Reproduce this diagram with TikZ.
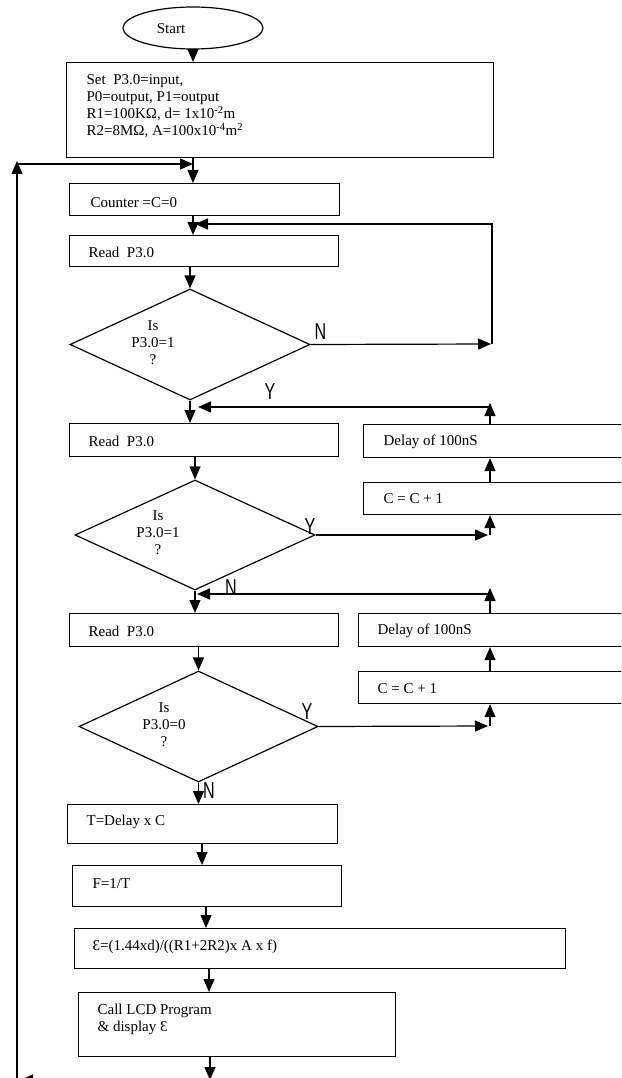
\documentclass[tikz,border=0pt]{standalone}
\usepackage{fontspec}
\usepackage{graphicx}
\setmainfont{Liberation Serif}
\newfontfamily\lblfont{Liberation Sans}
\usetikzlibrary{shapes.geometric,arrows.meta}
\begin{document}
\begin{tikzpicture}[x=1pt,y=-1pt,line width=1.2pt,
  box/.style={draw, rectangle, inner sep=0pt, anchor=north west},
  txt/.style={inner sep=0pt, anchor=west, align=left, font=\fontsize{15}{17}\selectfont},
  ctxt/.style={inner sep=0pt, align=center, font=\fontsize{15}{17}\selectfont},
  dec/.style={draw, diamond, inner sep=0pt},
  yn/.style={inner sep=0pt, font=\lblfont\fontsize{23}{23}\selectfont},
  arr/.style={-{Triangle[length=13pt,width=11pt]}}]
\useasboundingbox (0,0) rectangle (621,1078);
\clip (0,0) rectangle (621,1078);
\fill[white] (0,0) rectangle (621,1078);

% start
\node[draw, ellipse, minimum width=140pt, minimum height=42pt, inner sep=0pt] (start) at (193,28) {};
\node[ctxt] (starttxt) at (171,29) {Start};

% set box
\node[box, minimum width=427pt, minimum height=95pt] (set) at (66,62) {};
\node[txt] (settxt) at (86,106) {Set\ \ P3.0=input,\\P0=output, P1=output\\R1=100KΩ, d= 1x10\textsuperscript{-2}m\\R2=8MΩ, A=100x10\textsuperscript{-4}m\textsuperscript{2}};

% counter
\node[box, minimum width=270pt, minimum height=32pt] (counter) at (69,183) {};
\node[txt] (countertxt) at (90,203) {Counter =C=0};

% read 1
\node[box, minimum width=269pt, minimum height=31pt] (read1) at (69,235) {};
\node[txt] (read1txt) at (88,252) {Read\ \ P3.0};

% decision 1
\node[dec, minimum width=240pt, minimum height=111pt] (d1) at (190,344.5) {};
\node[ctxt] (d1txt) at (153,343) {Is\\P3.0=1\\?};

% read 2
\node[box, minimum width=269pt, minimum height=33pt] (read2) at (69,423) {};
\node[txt] (read2txt) at (88,441) {Read\ \ P3.0};

% delay 1, C 1
\node[box, minimum width=340pt, minimum height=33pt] (delay1) at (363,424) {};
\node[txt] (delay1txt) at (383,442) {Delay of 100nS};
\node[box, minimum width=340pt, minimum height=32pt] (c1) at (363,482) {};
\node[txt] (c1txt) at (383,499) {C = C + 1};

% decision 2
\node[dec, minimum width=240pt, minimum height=110pt] (d2) at (195,535) {};
\node[ctxt] (d2txt) at (158,533) {Is\\P3.0=1\\?};

% read 3
\node[box, minimum width=269pt, minimum height=33pt] (read3) at (69,613) {};
\node[txt] (read3txt) at (88,631) {Read\ \ P3.0};

% delay 2, C 2
\node[box, minimum width=340pt, minimum height=33pt] (delay2) at (358,613) {};
\node[txt] (delay2txt) at (377,631) {Delay of 100nS};
\node[box, minimum width=340pt, minimum height=32pt] (c2) at (358,671) {};
\node[txt] (c2txt) at (377,689) {C = C + 1};

% decision 3
\node[dec, minimum width=239pt, minimum height=111pt] (d3) at (198.5,726.5) {};
\node[ctxt] (d3txt) at (164,725) {Is\\P3.0=0\\?};

% T, F, E, LCD
\node[box, minimum width=270pt, minimum height=39pt] (tbox) at (67,804) {};
\node[txt] (ttxt) at (86,822) {T=Delay x C};
\node[box, minimum width=269pt, minimum height=41pt] (fbox) at (72,865) {};
\node[txt] (ftxt) at (92,884) {F=1/T};
\node[box, minimum width=491pt, minimum height=40pt] (ebox) at (74,928) {};
\node[txt] (etxt) at (92,947) {Ɛ=(1.44xd)/((R1+2R2)x A x f)};
\node[box, minimum width=317pt, minimum height=64pt] (lcd) at (78,992) {};
\node[txt] (lcdtxt) at (97,1019) {Call LCD Program\\\& display Ɛ};

% Y / N labels
\node[yn] (n1) at (320.5,331.5) {\scalebox{0.7}[1]{N}};
\node[yn] (y1) at (270,392) {\scalebox{0.7}[1]{Y}};
\node[yn] (y2) at (310,527) {\scalebox{0.7}[1]{Y}};
\node[yn] (n2) at (231,588) {\scalebox{0.7}[1]{N}};
\node[yn] (y3) at (307,712) {\scalebox{0.7}[1]{Y}};
\node[yn] (n3) at (209,791) {\scalebox{0.7}[1]{N}};

% helper coordinates
\coordinate (sp1) at (193,0);
\coordinate (sTF) at (202,0);
\coordinate (sFE) at (206,0);
\coordinate (sEL) at (209,0);
\coordinate (sLB) at (210,0);
\coordinate (loopB) at (17,1080);
\coordinate (loopT) at (17,164);
\coordinate (joinA) at (193,164);
\coordinate (n1r) at (492,344);
\coordinate (r1in) at (195,224);
\coordinate (fb1r) at (490,407);
\coordinate (fb1t) at (490,403);
\coordinate (fb1l) at (198,407);
\coordinate (y2r) at (490,535);
\coordinate (fb2r) at (490,594);
\coordinate (fb2t) at (490,588);
\coordinate (fb2l) at (197,594);
\coordinate (y3r) at (490,726);
\coordinate (botJ) at (210,1080);

% main spine
\draw[arr] (start) -- (start |- set.north);
\draw[arr] (set.south -| sp1) -- (counter.north -| sp1);
\draw[arr] (counter.south -| sp1) -- (read1.north -| sp1);
\draw[arr] (read1.south -| d1.north) -- (d1.north);
\draw[arr] (d1.south) -- (read2.north -| d1.south);
\draw[arr] (read2.south -| d2.north) -- (d2.north);
\draw[arr] (d2.south) -- (read3.north -| d2.south);
\draw[arr] (read3.south -| d3.north) -- (d3.north);
\draw[arr] (d3.south) -- (tbox.north -| d3.south);
\draw[arr] (tbox.south -| sTF) -- (fbox.north -| sTF);
\draw[arr] (fbox.south -| sFE) -- (ebox.north -| sFE);
\draw[arr] (ebox.south -| sEL) -- (lcd.north -| sEL);
\draw[arr] (lcd.south -| sLB) -- (botJ);

% outer loop
\draw[arr] (botJ) -- ([xshift=3pt]loopB);
\draw[arr] (loopB) -- ([yshift=3pt]loopT);
\draw[arr] (loopT) -- (joinA);

% decision 1 N loop
\draw[arr] (d1.east) -- ([xshift=-1pt]n1r);
\draw[arr] (n1r) |- (r1in);

% delay 1 / C 1 chain
\draw[arr] (d2.east) -- ([xshift=-2pt]y2r);
\draw[arr] (y2r) -- (c1.south -| y2r);
\draw[arr] (c1.north -| fb1r) -- (delay1.south -| fb1r);
\draw[arr] (delay1.north -| fb1r) -- (fb1t);
\draw[arr] (fb1r) -- (fb1l);

% delay 2 / C 2 chain
\draw[arr] (d3.east) -- ([xshift=-2pt]y3r);
\draw[arr] (y3r) -- (c2.south -| y3r);
\draw[arr] (c2.north -| fb2r) -- (delay2.south -| fb2r);
\draw[arr] (delay2.north -| fb2r) -- (fb2t);
\draw[arr] (fb2r) -- (fb2l);
\end{tikzpicture}
\end{document}
